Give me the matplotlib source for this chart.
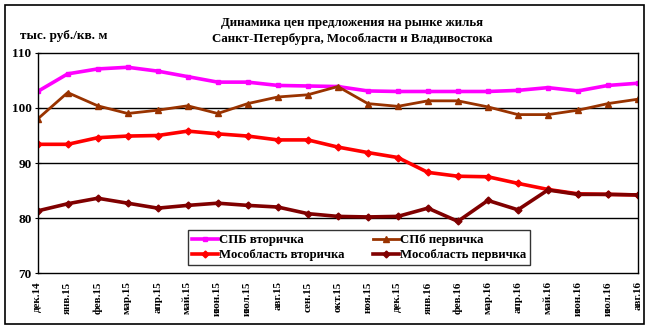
import matplotlib
matplotlib.use("Agg")
from matplotlib import pyplot as plt
from matplotlib.patches import Rectangle

months = ["дек.14", "янв.15", "фев.15", "мар.15", "апр.15", "май.15", "июн.15",
          "июл.15", "авг.15", "сен.15", "окт.15", "ноя.15", "дек.15", "янв.16",
          "фев.16", "мар.16", "апр.16", "май.16", "июн.16", "июл.16", "авг.16"]

spb_vtor = [103.0, 106.2, 107.1, 107.4, 106.7, 105.7, 104.7, 104.7, 104.1, 104.0, 103.9,
            103.1, 103.0, 103.0, 103.0, 103.0, 103.2, 103.7, 103.1, 104.1, 104.5]
spb_perv = [98.0, 102.8, 100.4, 99.0, 99.6, 100.4, 99.0, 100.8, 102.0, 102.4, 103.9,
            100.8, 100.3, 101.3, 101.3, 100.2, 98.8, 98.8, 99.6, 100.8, 101.6]
mo_vtor = [93.4, 93.4, 94.6, 94.9, 95.0, 95.8, 95.3, 94.9, 94.2, 94.2, 92.9,
           91.9, 91.0, 88.3, 87.6, 87.5, 86.3, 85.2, 84.4, 84.3, 84.2]
mo_perv = [81.3, 82.6, 83.6, 82.7, 81.8, 82.3, 82.7, 82.3, 82.0, 80.8, 80.3,
           80.2, 80.3, 81.8, 79.4, 83.2, 81.5, 85.1, 84.3, 84.3, 84.2]

plt.rcParams['font.family'] = ['Liberation Serif', 'DejaVu Serif']
plt.rcParams['font.weight'] = 'bold'

fig = plt.figure(figsize=(6.49, 3.29), dpi=100)
fig.patches.append(Rectangle((0.007, 0.014), 0.986, 0.97, transform=fig.transFigure,
                             fill=False, edgecolor='black', linewidth=1.2))
ax = fig.add_axes([0.058, 0.170, 0.925, 0.669])

x = list(range(len(months)))
l1, = ax.plot(x, spb_vtor, '-s', color='#ff00ff', lw=2.6, ms=3.5, label='СПБ вторичка')
l2, = ax.plot(x, spb_perv, '-^', color='#993300', lw=2, ms=5, label='СПб первичка')
l3, = ax.plot(x, mo_vtor, '-D', color='#ff0000', lw=2.6, ms=3.5, label='Мособласть вторичка')
l4, = ax.plot(x, mo_perv, '-D', color='#800000', lw=2.6, ms=3.5, label='Мособласть первичка')

ax.set_xlim(0, len(months) - 1)
ax.set_ylim(70, 110)
ax.set_yticks([70, 80, 90, 100, 110])
for v in [80, 90, 100]:
    ax.axhline(v, color='black', lw=1, zorder=0)
ax.set_xticks(x)
ax.set_xticklabels(months, rotation=90, fontsize=8, fontweight='bold')
ax.tick_params(axis='x', length=0, pad=6)
ax.tick_params(axis='y', direction='inout', length=5, labelsize=9.5, pad=2)
for s in ax.spines.values():
    s.set_linewidth(1)

fig.text(0.542, 0.930, 'Динамика цен предложения на рынке жилья', ha='center', va='center',
         fontsize=9.3, fontweight='bold')
fig.text(0.542, 0.881, 'Санкт-Петербурга, Мособласти и Владивостока', ha='center', va='center',
         fontsize=9.3, fontweight='bold')
fig.text(0.031, 0.890, 'тыс. руб./кв. м', ha='left', va='center', fontsize=9.5, fontweight='bold')

# порядок как в оригинале: по строкам
leg = ax.legend([l1, l3, l2, l4], [l1.get_label(), l3.get_label(), l2.get_label(), l4.get_label()],
                ncol=2, loc='lower left', bbox_to_anchor=(0.251, 0.036, 0.569, 0.173),
                mode='expand', fontsize=9.2, frameon=True, fancybox=False, edgecolor='black',
                handlelength=2.0, handletextpad=0.1, borderpad=0.3, labelspacing=0.25,
                columnspacing=0.3, borderaxespad=0)
leg.get_frame().set_linewidth(1)

fig.savefig('out.png', dpi=100)
